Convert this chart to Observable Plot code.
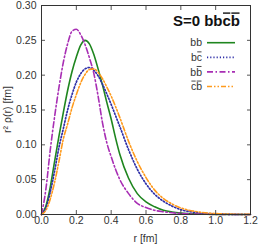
<!DOCTYPE html>
<html>
<head>
<meta charset="utf-8">
<script src="https://cdn.jsdelivr.net/npm/d3@7"></script>
<script src="https://cdn.jsdelivr.net/npm/@observablehq/plot@0.6"></script>
<style>
  html, body { margin: 0; padding: 0; background: #fff; }
  svg text { font-family: "Liberation Sans", Arial, sans-serif; }
</style>
</head>
<body>
<div id="chart"></div>
<script>
// radius grid [fm]
const r = [0, 0.025, 0.05, 0.075, 0.1, 0.125, 0.15, 0.175, 0.2, 0.225, 0.25, 0.275, 0.3, 0.325, 0.35, 0.375, 0.4, 0.425, 0.45, 0.5, 0.55, 0.6, 0.65, 0.7, 0.75, 0.8, 0.9, 1.0, 1.1, 1.2];
// r^2 rho(r) for each pair
const bb     = [0, 0.012, 0.039, 0.076, 0.112, 0.146, 0.178, 0.205, 0.226, 0.243, 0.250, 0.245, 0.230, 0.209, 0.186, 0.161, 0.137, 0.110, 0.086, 0.052, 0.030, 0.018, 0.011, 0.006, 0.0035, 0.002, 0.0007, 0.0002, 0.0001, 0];
const bcbar  = [0, 0.009, 0.032, 0.062, 0.096, 0.123, 0.150, 0.172, 0.190, 0.202, 0.209, 0.211, 0.207, 0.199, 0.187, 0.173, 0.158, 0.142, 0.126, 0.093, 0.065, 0.044, 0.029, 0.019, 0.012, 0.007, 0.0025, 0.0008, 0.0002, 0];
const bbbar  = [0, 0.036, 0.092, 0.140, 0.182, 0.218, 0.245, 0.263, 0.266, 0.258, 0.244, 0.225, 0.203, 0.170, 0.132, 0.103, 0.083, 0.065, 0.050, 0.030, 0.016, 0.010, 0.006, 0.004, 0.0025, 0.0015, 0.0005, 0.0002, 0, 0];
const cbarbbar = [0, 0.006, 0.022, 0.046, 0.076, 0.108, 0.130, 0.153, 0.172, 0.189, 0.201, 0.208, 0.209, 0.204, 0.195, 0.183, 0.170, 0.155, 0.139, 0.105, 0.076, 0.053, 0.035, 0.023, 0.015, 0.0095, 0.0037, 0.0013, 0.0004, 0.0001];

const xTicks = [0, 0.2, 0.4, 0.6, 0.8, 1.0, 1.2];
const yTicks = [0, 0.05, 0.10, 0.15, 0.20, 0.25, 0.30];

const series = [
  {parts: [["b", false], ["b", false]], values: bb, color: "#1f861f", dash: null, width: 1.6},
  {parts: [["b", false], ["c", true]], values: bcbar, color: "#2f2fa8", dash: "1.2,2", width: 1.7},
  {parts: [["b", false], ["b", true]], values: bbbar, color: "#a82eb4", dash: "6,2.5,1.5,2.5", width: 1.6},
  {parts: [["c", true], ["b", true]], values: cbarbbar, color: "#ff9a1c", dash: "5,2,1.5,2,1.5,2", width: 1.6}
];

const W = 258, H = 245;
const mL = 41, mR = 8, mT = 5, mB = 31;

const lineMarks = series.map(s =>
  Plot.line(r.map((x, i) => ({r: x, v: s.values[i]})), {
    x: "r", y: "v", stroke: s.color, strokeWidth: s.width,
    strokeDasharray: s.dash, curve: "monotone-x"
  })
);

const plot = Plot.plot({
  width: W, height: H,
  marginLeft: mL, marginRight: mR, marginTop: mT, marginBottom: mB,
  style: {fontFamily: "'Liberation Sans', Arial, sans-serif", fontSize: "10.5px", color: "#333", background: "#fff"},
  x: {domain: [0, 1.2]},
  y: {domain: [0, 0.30]},
  marks: [
    ...lineMarks,
    Plot.axisX(xTicks, {anchor: "bottom", tickSize: -4, tickPadding: 6, tickFormat: d3.format(".1f"),
      label: null, stroke: "#555"}),
    Plot.axisX(xTicks, {anchor: "top", tickSize: -4, tickFormat: () => "", label: null, stroke: "#555"}),
    Plot.axisY(yTicks, {anchor: "left", tickSize: -4, tickPadding: 9, tickFormat: d3.format(".2f"),
      label: null, stroke: "#555"}),
    Plot.axisY(yTicks, {anchor: "right", tickSize: -4, tickFormat: () => "", label: null, stroke: "#555"}),
    Plot.frame({stroke: "#333", strokeWidth: 1})
  ]
});

document.getElementById("chart").appendChild(plot);

const svg = d3.select(plot);
const frameLeft = mL, frameRight = W - mR, frameTop = mT, frameBottom = H - mB;
const g = svg.append("g").attr("font-family", "'Liberation Sans', Arial, sans-serif");

// axis labels
g.append("text")
  .attr("x", (frameLeft + frameRight) / 2).attr("y", frameBottom + 28)
  .attr("text-anchor", "middle").attr("font-size", 10.5).attr("fill", "#333")
  .text("r [fm]");
g.append("text")
  .attr("transform", `translate(${frameLeft - 30},${(frameTop + frameBottom) / 2}) rotate(-90)`)
  .attr("text-anchor", "middle").attr("font-size", 10.5).attr("fill", "#333")
  .text("r² ρ(r) [fm]");

// text with overlined parts (overline drawn as a short rule above the glyphs)
function richText(parent, x, y, parts, size, weight, fill, barGap) {
  const t = parent.append("text")
    .attr("x", x).attr("y", y).attr("text-anchor", "end")
    .attr("font-size", size).attr("font-weight", weight).attr("fill", fill);
  const spans = parts.map(([txt, o]) => [t.append("tspan").text(txt), o]);
  spans.forEach(([ts, o]) => {
    if (!o) return;
    const node = ts.node();
    const n = node.getNumberOfChars();
    const x0 = node.getStartPositionOfChar(0).x;
    const x1 = node.getEndPositionOfChar(n - 1).x;
    parent.append("line")
      .attr("x1", x0 + 0.5).attr("x2", x1 - 0.5)
      .attr("y1", y - size * barGap).attr("y2", y - size * barGap)
      .attr("stroke", fill).attr("stroke-width", weight === "bold" ? 1.4 : 0.9);
  });
  return t;
}

// title
richText(g, frameRight - 10, frameTop + 21, [["S=0 bb", false], ["c", true], ["b", true]], 15, "bold", "#111", 0.86);

// legend
series.forEach((s, i) => {
  const cy = frameTop + 37.7 + i * 14.6;
  richText(g, frameRight - 48, cy + 3.6, s.parts, 10.5, "normal", "#333", 0.86);
  g.append("line")
    .attr("x1", frameRight - 43).attr("x2", frameRight - 15)
    .attr("y1", cy).attr("y2", cy)
    .attr("stroke", s.color).attr("stroke-width", s.width)
    .attr("stroke-dasharray", s.dash);
});
</script>
</body>
</html>
